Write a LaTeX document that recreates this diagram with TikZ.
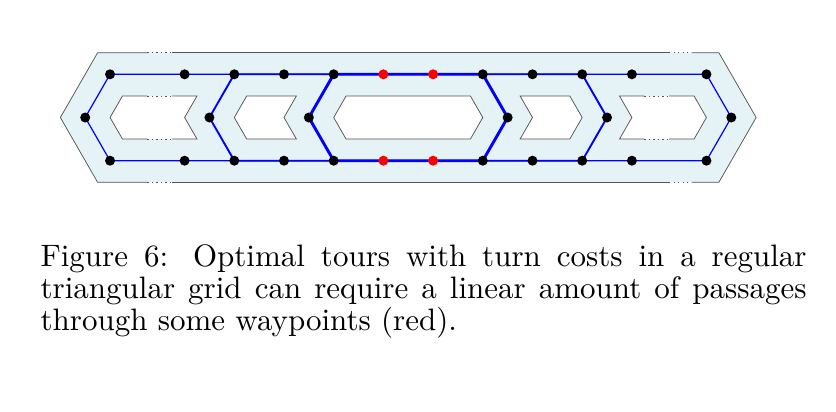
\documentclass[tikz,border=0pt]{standalone}
\usepackage{fontspec}
\definecolor{regionfill}{RGB}{229,242,246}
\definecolor{wallgray}{RGB}{85,85,85}
\tikzset{
  wall/.style={draw=wallgray, line width=0.75pt, line join=miter},
  wallgap/.style={draw=wallgray, line width=0.75pt, dash pattern=on 1.2pt off 3.3pt},
  loopA/.style={draw=blue, line width=1.2pt, line join=round},
  loopB/.style={draw=blue, line width=1.9pt, line join=round},
  loopC/.style={draw=blue, line width=2.9pt, line join=round},
  dot/.style={circle, fill=black, inner sep=0pt, minimum size=10pt},
  reddot/.style={dot, fill=red},
}
\def\yT{74.3}
\def\yM{117.5}
\def\yB{160.7}
\def\yOT{52.7}
\def\yOB{182.3}
\def\yHT{95.9}
\def\yHB{139.1}
\begin{document}
\begin{tikzpicture}
\path[use as bounding box] (0pt,0pt) rectangle (836pt,-412pt);
\begin{scope}[x=49.7pt, y=-1pt, xshift=234.3pt]
  % region with holes
  \fill[regionfill, even odd rule]
    (-2.75,\yOT) -- (9.75,\yOT) -- (10.5,\yM) -- (9.75,\yOB) -- (-2.75,\yOB) -- (-3.5,\yM) -- cycle
    (-2.25,\yHT) -- (-0.75,\yHT) -- (-1,\yM) -- (-0.75,\yHB) -- (-2.25,\yHB) -- (-2.5,\yM) -- cycle
    (0.25,\yHT) -- (1.25,\yHT) -- (1,\yM) -- (1.25,\yHB) -- (0.25,\yHB) -- (0,\yM) -- cycle
    (2.25,\yHT) -- (4.75,\yHT) -- (5,\yM) -- (4.75,\yHB) -- (2.25,\yHB) -- (2,\yM) -- cycle
    (5.75,\yHT) -- (6.75,\yHT) -- (7,\yM) -- (6.75,\yHB) -- (5.75,\yHB) -- (6,\yM) -- cycle
    (7.75,\yHT) -- (9.25,\yHT) -- (9.5,\yM) -- (9.25,\yHB) -- (7.75,\yHB) -- (8,\yM) -- cycle;
  % outer wall
  \path[wall] (-1.25,\yOT) -- (8.75,\yOT);
  \path[wall] (9.2,\yOT) -- (9.75,\yOT) -- (10.5,\yM) -- (9.75,\yOB) -- (9.2,\yOB);
  \path[wall] (8.75,\yOB) -- (-1.25,\yOB);
  \path[wall] (-1.75,\yOB) -- (-2.75,\yOB) -- (-3.5,\yM) -- (-2.75,\yOT) -- (-1.75,\yOT);
  \path[wallgap] (-1.75,\yOT) -- (-1.25,\yOT);
  \path[wallgap] (-1.75,\yOB) -- (-1.25,\yOB);
  \path[wallgap] (8.75,\yOT) -- (9.2,\yOT);
  \path[wallgap] (8.75,\yOB) -- (9.2,\yOB);
  % hole 1
  \path[wall] (-1.25,\yHT) -- (-0.75,\yHT) -- (-1,\yM) -- (-0.75,\yHB) -- (-1.25,\yHB);
  \path[wall] (-1.75,\yHB) -- (-2.25,\yHB) -- (-2.5,\yM) -- (-2.25,\yHT) -- (-1.75,\yHT);
  \path[wallgap] (-1.75,\yHT) -- (-1.25,\yHT);
  \path[wallgap] (-1.75,\yHB) -- (-1.25,\yHB);
  % hole 2
  \path[wall] (0.25,\yHT) -- (1.25,\yHT) -- (1,\yM) -- (1.25,\yHB) -- (0.25,\yHB) -- (0,\yM) -- cycle;
  % hole 3
  \path[wall] (2.25,\yHT) -- (4.75,\yHT) -- (5,\yM) -- (4.75,\yHB) -- (2.25,\yHB) -- (2,\yM) -- cycle;
  % hole 4
  \path[wall] (5.75,\yHT) -- (6.75,\yHT) -- (7,\yM) -- (6.75,\yHB) -- (5.75,\yHB) -- (6,\yM) -- cycle;
  % hole 5
  \path[wall] (8.75,\yHT) -- (9.25,\yHT) -- (9.5,\yM) -- (9.25,\yHB) -- (8.75,\yHB);
  \path[wall] (8.25,\yHB) -- (7.75,\yHB) -- (8,\yM) -- (7.75,\yHT) -- (8.25,\yHT);
  \path[wallgap] (8.25,\yHT) -- (8.75,\yHT);
  \path[wallgap] (8.25,\yHB) -- (8.75,\yHB);
  % waypoint coordinates
  \foreach \t [count=\i] in {-2.5,-1,0,1,2,3,4,5,6,7,8,9.5} {
    \coordinate (top\i) at (\t,\yT);
    \coordinate (bot\i) at (\t,\yB);
  }
  \foreach \t [count=\i] in {-3,-0.5,1.5,5.5,7.5,10} {
    \coordinate (mid\i) at (\t,\yM);
  }
  % tour loops
  \draw[loopA] (top1) -- (top12) -- (mid6) -- (bot12) -- (bot1) -- (mid1) -- cycle;
  \draw[loopB] (top3) -- (top10) -- (mid5) -- (bot10) -- (bot3) -- (mid2) -- cycle;
  \draw[loopC] (top5) -- (top8) -- (mid4) -- (bot8) -- (bot5) -- (mid3) -- cycle;
  % waypoints
  \foreach \i in {1,2,3,4,5,8,9,10,11,12} {
    \node[dot] (dtop\i) at (top\i) {};
    \node[dot] (dbot\i) at (bot\i) {};
  }
  \foreach \i in {6,7} {
    \node[reddot] (dtop\i) at (top\i) {};
    \node[reddot] (dbot\i) at (bot\i) {};
  }
  \foreach \i in {1,...,6} {
    \node[dot] (dmid\i) at (mid\i) {};
  }
\end{scope}
\node[anchor=base west, scale=3.1, text width=247.1pt, align=justify, inner sep=0pt,
      font=\fontsize{10}{10.23}\selectfont] (caption) at (40pt,-266.7pt)
  {Figure 6: Optimal tours with turn costs in a regular\linebreak triangular grid can require a linear amount of passages\linebreak through some waypoints (red).};
\end{tikzpicture}
\end{document}
